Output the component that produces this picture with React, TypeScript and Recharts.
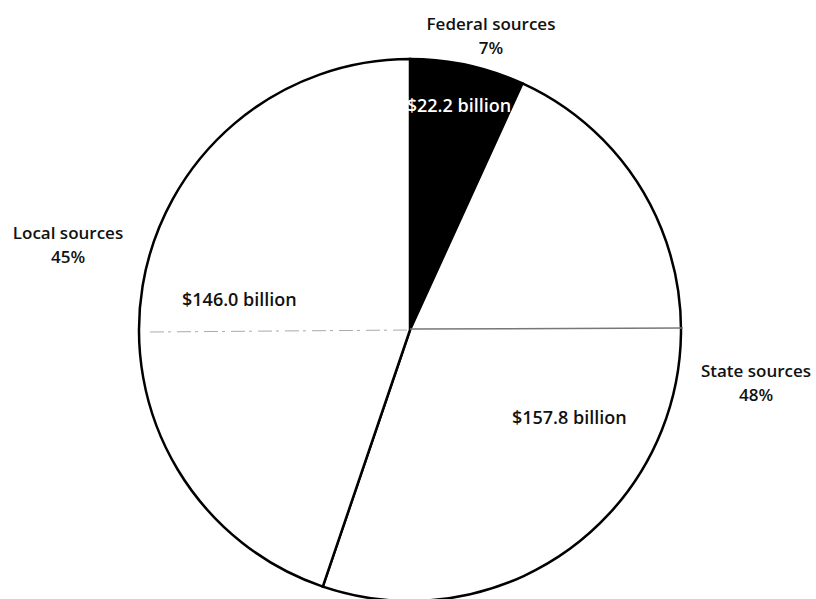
import React from 'react';
import { PieChart, Pie, Cell } from 'recharts';

// Revenue sources, in billions of dollars
const sources = ['Federal sources', 'State sources', 'Local sources'];
const amounts = [22.2, 157.8, 146.0];
const fills = ['#000000', '#ffffff', '#ffffff'];
const amountColors = ['#ffffff', '#111111', '#111111'];

const data = sources.map((name, i) => ({ name, value: amounts[i] }));

// label placement: inner amount along the slice bisector, outer name relative to the centre
const innerFactor = [0.85, 0.67, 0.64];
const innerShift = [0, -7, -1];
const outerOffset = [
  [81, -300],
  [346, 47],
  [-342, -91],
];

const RADIAN = Math.PI / 180;
const FONT = '"Open Sans", "Noto Sans", sans-serif';

const renderLabel = (props: any) => {
  const { cx, cy, midAngle, outerRadius, index, percent, value } = props;
  const a = (midAngle + innerShift[index]) * RADIAN;
  const r = outerRadius * innerFactor[index];
  const ix = cx + r * Math.cos(a);
  const iy = cy - r * Math.sin(a);
  const [ox, oy] = outerOffset[index];
  return (
    <g style={{ fontFamily: FONT, fontWeight: 600 }}>
      <text x={ix} y={iy} fill={amountColors[index]} textAnchor="middle" dominantBaseline="central" fontSize={18}>
        {`$${Number(value).toFixed(1)} billion`}
      </text>
      <text x={cx + ox} y={cy + oy} fill="#111" textAnchor="middle" fontSize={17}>
        {sources[index]}
      </text>
      <text x={cx + ox} y={cy + oy + 24} fill="#111" textAnchor="middle" fontSize={17}>
        {`${Math.round(percent * 100)}%`}
      </text>
    </g>
  );
};

const App: React.FC = () => {
  return (
    <div style={{ position: 'absolute', left: 0, top: 0, width: 816, height: 599, background: '#fff' }}>
      <PieChart width={816} height={599} margin={{ top: 0, right: 0, bottom: 0, left: 0 }}>
        <Pie
          data={data}
          dataKey="value"
          cx={410}
          cy={330}
          outerRadius={271}
          startAngle={90}
          endAngle={-270}
          stroke="#000"
          strokeWidth={2.5}
          labelLine={false}
          label={renderLabel}
          isAnimationActive={false}
        >
          {data.map((entry, index) => (
            <Cell key={`cell-${index}`} fill={fills[index]} />
          ))}
        </Pie>
      </PieChart>
      {/* faint scan line across the middle of the original */}
      <svg width={816} height={599} style={{ position: 'absolute', left: 0, top: 0, pointerEvents: 'none' }}>
        <line x1={150} y1={332} x2={410} y2={330} stroke="#aaa" strokeWidth={1} strokeDasharray="14 4 3 6" />
        <line x1={410} y1={329} x2={683} y2={328} stroke="#777" strokeWidth={1.5} />
      </svg>
    </div>
  );
};

export default App;
